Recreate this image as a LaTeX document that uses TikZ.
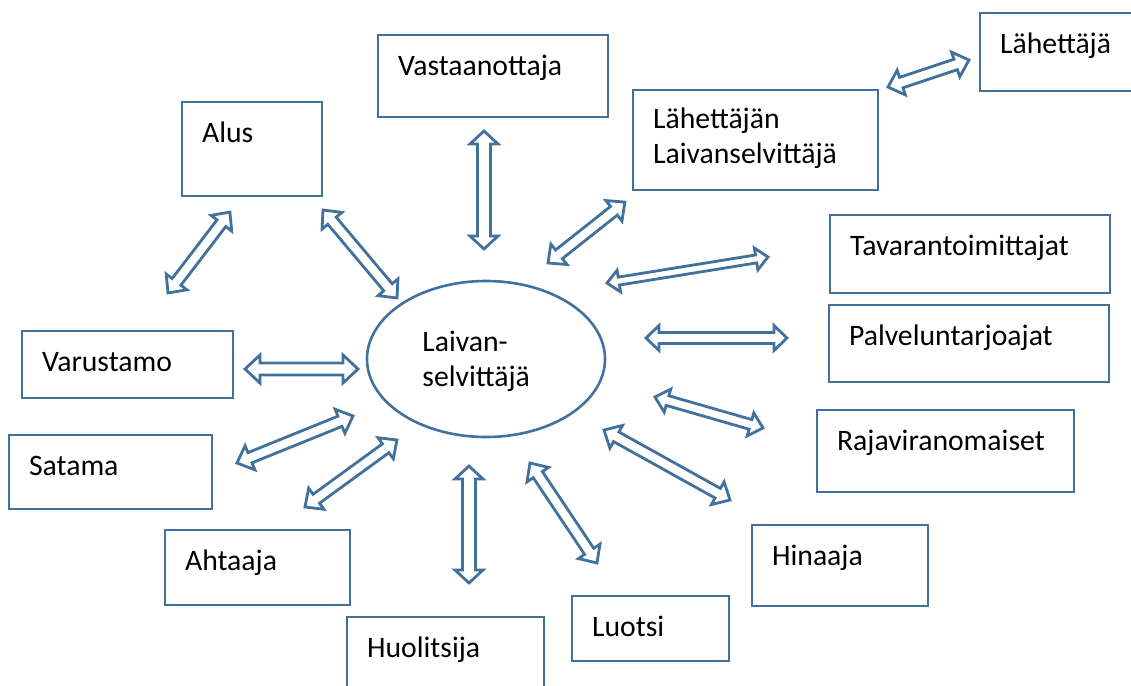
\documentclass[tikz,border=0pt]{standalone}
\usepackage{fontspec}
\setmainfont{Carlito}
\usetikzlibrary{calc,shapes.geometric}
\definecolor{wblue}{HTML}{41719C}
\newdimen\arXa \newdimen\arYa \newdimen\arXb \newdimen\arYb
\newcommand\darr[5]{%
 \pgfextractx{\arXa}{\pgfpointanchor{#1}{center}}%
 \pgfextracty{\arYa}{\pgfpointanchor{#1}{center}}%
 \pgfextractx{\arXb}{\pgfpointanchor{#2}{center}}%
 \pgfextracty{\arYb}{\pgfpointanchor{#2}{center}}%
 \pgfmathsetmacro\arAng{atan2(\arYb-\arYa,\arXb-\arXa)}%
 \pgfmathsetmacro\arLen{veclen(\arXb-\arXa,\arYb-\arYa)}%
 \pgfmathsetmacro\arS{#3/4}%
 \pgfmathsetmacro\arH{#4/4}%
 \pgfmathsetmacro\arL{#5/2}%
 \pgfmathsetmacro\arM{\arLen-\arL}%
 \begin{scope}[shift={(\the\arXa,\the\arYa)}, rotate=\arAng]
  \draw[arrowline] (0pt,0pt) -- (\arL pt,\arH pt) -- (\arL pt,\arS pt) -- (\arM pt,\arS pt) -- (\arM pt,\arH pt) -- (\arLen pt,0pt) -- (\arM pt,-\arH pt) -- (\arM pt,-\arS pt) -- (\arL pt,-\arS pt) -- (\arL pt,-\arH pt) -- cycle;
 \end{scope}}
\newcommand\ebox[7][42]{%
 \node[box, minimum width={(#5-#3)*0.5pt}, minimum height={(#6-#4)*0.5pt}] (#2) at ({(#3+#5)/2},{(#4+#6)/2}) {};
 \node[txt, anchor=base west] (#2-t) at ($(#2.north west)+(21,#1)$) {#7};
}
\begin{document}
\begin{tikzpicture}[x=0.5pt,y=-0.5pt,
  box/.style={draw=wblue, line width=1.3pt, rectangle, inner sep=0pt, fill=white},
  ell/.style={draw=wblue, line width=1.3pt, ellipse, inner sep=0pt},
  txt/.style={inner sep=0pt, align=left, font=\fontsize{14.85}{17.5}\selectfont},
  arrowline/.style={draw=wblue, line width=1.4pt, line join=miter, fill=white}]
\useasboundingbox (0,0) rectangle (1131,686);
\fill[white] (0,0) rectangle (1131,686);

\ebox{vast}{378}{35}{608}{117}{Vastaanottaja}
\ebox{lah}{980}{13}{1134}{91}{Lähettäjä}
\ebox[75]{lahl}{633}{90}{878}{190}{Lähettäjän\\Laivanselvittäjä}
\ebox{alus}{182}{102}{322}{196}{Alus}
\ebox{tava}{830}{215}{1110}{293}{Tavarantoimittajat}
\ebox{palv}{829}{305}{1109}{382}{Palveluntarjoajat}
\ebox{varu}{22}{331}{233}{398}{Varustamo}
\ebox{raja}{817}{410}{1074}{492}{Rajaviranomaiset}
\ebox{sata}{9}{435}{212}{509}{Satama}
\ebox{ahta}{165}{530}{350}{605}{Ahtaaja}
\ebox{hina}{752}{525}{928}{606}{Hinaaja}
\ebox{luot}{572}{596}{729}{661}{Luotsi}
\ebox{huol}{347}{617}{544}{700}{Huolitsija}

\node[ell, minimum width=119pt, minimum height=78pt] (c) at (486,359) {};
\node[txt, anchor=base west] (c-t) at (422,386) {Laivan-\\selvittäjä};

\coordinate (a1) at (484,131); \coordinate (b1) at (484,249);
\coordinate (a2) at (888,87);  \coordinate (b2) at (969,60);
\coordinate (a3) at (548,263); \coordinate (b3) at (625,202);
\coordinate (a4) at (607,283); \coordinate (b4) at (768,257);
\coordinate (a5) at (646,338); \coordinate (b5) at (787,338);
\coordinate (a6) at (655,397); \coordinate (b6) at (763,428);
\coordinate (a7) at (604,430); \coordinate (b7) at (730,500);
\coordinate (a8) at (530,463); \coordinate (b8) at (597,563);
\coordinate (a9) at (469,466); \coordinate (b9) at (469,583);
\coordinate (a10) at (305,507); \coordinate (b10) at (397,440);
\coordinate (a11) at (237,463); \coordinate (b11) at (353,416);
\coordinate (a12) at (245,369); \coordinate (b12) at (358,369);
\coordinate (a13) at (168,293); \coordinate (b13) at (230,212);
\coordinate (a14) at (323,210); \coordinate (b14) at (397,298);

\darr{a1}{b1}{13}{28}{13}
\darr{a2}{b2}{11}{26}{14}
\darr{a3}{b3}{11}{26}{14}
\darr{a4}{b4}{8}{22}{12}
\darr{a5}{b5}{11}{25}{13}
\darr{a6}{b6}{10}{24}{13}
\darr{a7}{b7}{11}{26}{14}
\darr{a8}{b8}{11}{26}{14}
\darr{a9}{b9}{13}{28}{13}
\darr{a10}{b10}{11}{26}{14}
\darr{a11}{b11}{11}{26}{14}
\darr{a12}{b12}{12}{28}{15}
\darr{a13}{b13}{11}{26}{14}
\darr{a14}{b14}{11}{26}{14}
\end{tikzpicture}
\end{document}
